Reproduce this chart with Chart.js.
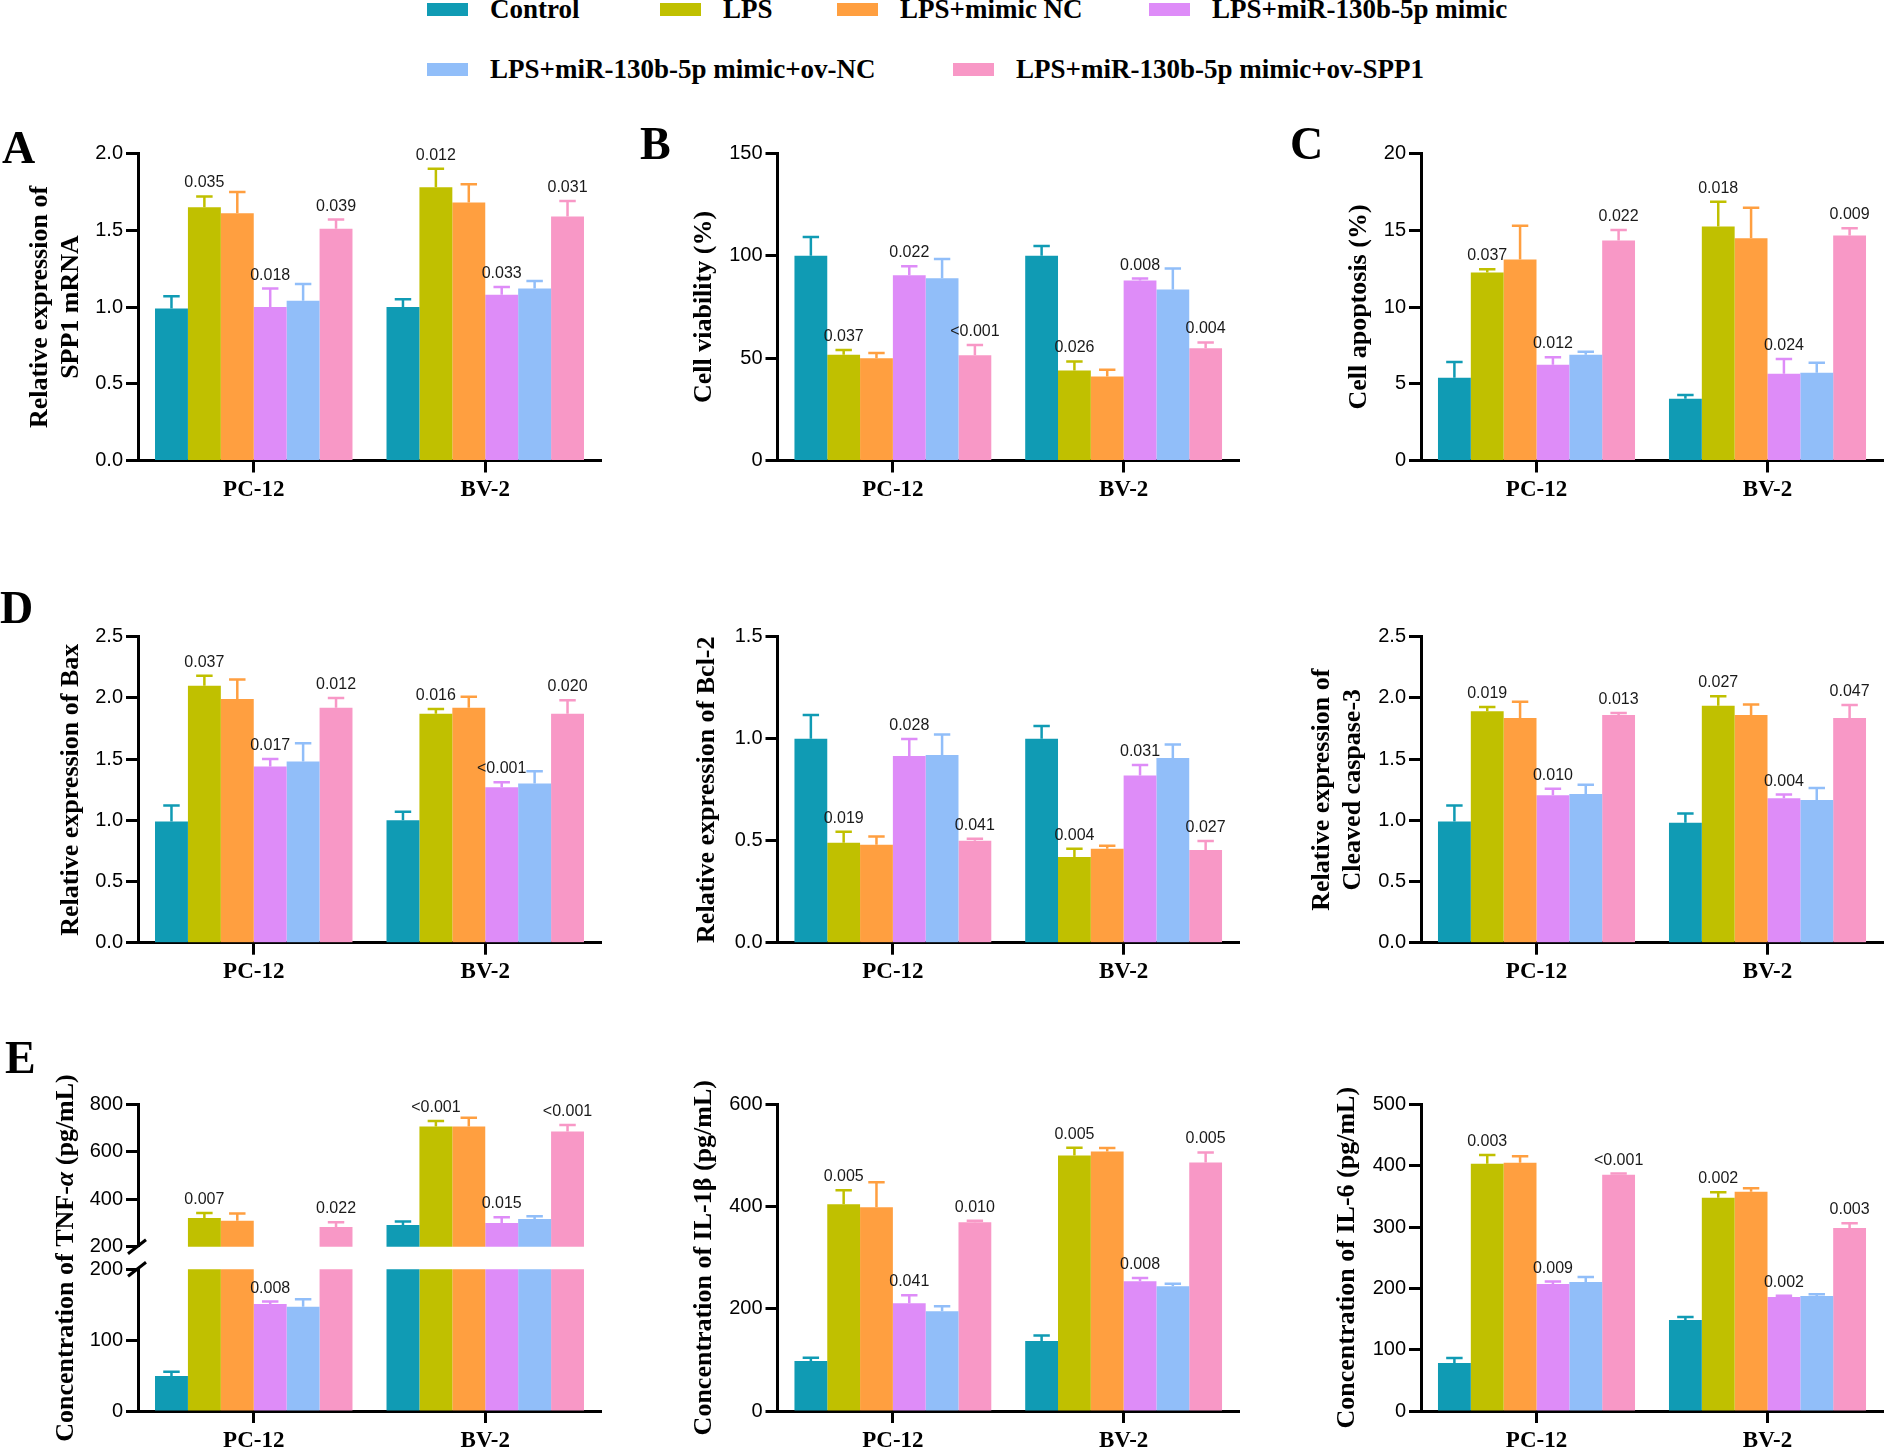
<!DOCTYPE html>
<html>
<head>
<meta charset="utf-8">
<title>SPP1 / miR-130b-5p panels</title>
<script src="https://cdn.jsdelivr.net/npm/chart.js@4.4.1/dist/chart.umd.min.js"></script>
<style>
  body { margin: 0; background: #fff; width: 1884px; height: 1449px; position: relative; overflow: hidden; }
  canvas { position: absolute; }
  .key { position: absolute; width: 41px; height: 13px; }
  .keyText { position: absolute; font: bold 27px 'Liberation Serif', 'Times New Roman', serif; line-height: 27px; white-space: nowrap; color: #000; }
  .letter { position: absolute; font: bold 46px 'Liberation Serif', 'Times New Roman', serif; line-height: 46px; color: #000; }
</style>
</head>
<body>
<script>
// groupes et lignées cellulaires
const cellLines = ['PC-12', 'BV-2'];
const groups = ['Control', 'LPS', 'LPS+mimic NC', 'LPS+miR-130b-5p mimic',
                'LPS+miR-130b-5p mimic+ov-NC', 'LPS+miR-130b-5p mimic+ov-SPP1'];
const groupColors = ['#109bb4', '#c0c000', '#ff9f40', '#de8cf8', '#91bef9', '#f898c6'];

// A - SPP1 mRNA  (ligne 0 = PC-12, ligne 1 = BV-2)
const spp1Ticks = ['0.0', '0.5', '1.0', '1.5', '2.0'];
const spp1Mean = [[0.99, 1.65, 1.61, 1.00, 1.04, 1.51], [1.00, 1.78, 1.68, 1.08, 1.12, 1.59]];
const spp1SD   = [[0.08, 0.07, 0.14, 0.12, 0.11, 0.06], [0.05, 0.12, 0.12, 0.05, 0.05, 0.10]];
const spp1P    = [['', '0.035', '', '0.018', '', '0.039'], ['', '0.012', '', '0.033', '', '0.031']];

// B - viabilité
const viabTicks = ['0', '50', '100', '150'];
const viabMean = [[100, 51.7, 49.9, 90.5, 89.0, 51.4], [100, 44.0, 41.1, 88.0, 83.6, 54.8]];
const viabSD   = [[9.2, 2.3, 2.6, 4.4, 9.5, 5.0], [4.8, 4.4, 3.2, 0.9, 10.2, 2.9]];
const viabP    = [['', '0.037', '', '0.022', '', '<0.001'], ['', '0.026', '', '0.008', '', '0.004']];

// C - apoptose
const apoTicks = ['0', '5', '10', '15', '20'];
const apoMean = [[5.39, 12.24, 13.09, 6.24, 6.89, 14.33], [4.02, 15.24, 14.48, 5.65, 5.72, 14.65]];
const apoSD   = [[1.02, 0.22, 2.21, 0.48, 0.20, 0.69], [0.24, 1.61, 1.98, 0.96, 0.65, 0.48]];
const apoP    = [['', '0.037', '', '0.012', '', '0.022'], ['', '0.018', '', '0.024', '', '0.009']];

// D - Bax / Bcl-2 / Cleaved caspase-3
const baxTicks = ['0.0', '0.5', '1.0', '1.5', '2.0', '2.5'];
const baxMean = [[0.99, 2.10, 1.99, 1.44, 1.48, 1.92], [1.00, 1.87, 1.92, 1.27, 1.30, 1.87]];
const baxSD   = [[0.13, 0.08, 0.16, 0.06, 0.15, 0.08], [0.07, 0.04, 0.09, 0.04, 0.10, 0.11]];
const baxP    = [['', '0.037', '', '0.017', '', '0.012'], ['', '0.016', '', '<0.001', '', '0.020']];

const bclTicks = ['0.0', '0.5', '1.0', '1.5'];
const bclMean = [[1.00, 0.49, 0.48, 0.915, 0.92, 0.50], [1.00, 0.42, 0.46, 0.82, 0.905, 0.455]];
const bclSD   = [[0.116, 0.054, 0.041, 0.083, 0.10, 0.009], [0.062, 0.041, 0.015, 0.051, 0.067, 0.043]];
const bclP    = [['', '0.019', '', '0.028', '', '0.041'], ['', '0.004', '', '0.031', '', '0.027']];

const caspTicks = ['0.0', '0.5', '1.0', '1.5', '2.0', '2.5'];
const caspMean = [[0.99, 1.89, 1.835, 1.205, 1.215, 1.86], [0.98, 1.935, 1.86, 1.18, 1.165, 1.835]];
const caspSD   = [[0.13, 0.035, 0.134, 0.052, 0.076, 0.016], [0.075, 0.078, 0.087, 0.03, 0.098, 0.107]];
const caspP    = [['', '0.019', '', '0.010', '', '0.013'], ['', '0.027', '', '0.004', '', '0.047']];

// E - cytokines
const tnfTicksHigh = ['200', '400', '600', '800'];
const tnfTicksLow = ['0', '100', '200'];
const tnfMean = [[49.4, 321, 309, 151, 147, 283], [292, 707, 707, 300, 317, 686]];
const tnfSD   = [[6.1, 21, 31, 3.4, 10.8, 20], [14, 23, 37, 24, 11, 28]];
const tnfP    = [['', '0.007', '', '0.008', '', '0.022'], ['', '<0.001', '', '0.015', '', '<0.001']];

const il1bTicks = ['0', '200', '400', '600'];
const il1bMean = [[97.7, 404.6, 398.7, 211, 195.4, 369.4], [136.8, 500.3, 508.1, 254.1, 244.3, 486.6]];
const il1bSD   = [[6.5, 27.3, 48.9, 15.6, 9.8, 3.2], [11.1, 15, 6.6, 6.5, 4.6, 19.6]];
const il1bP    = [['', '0.005', '', '0.041', '', '0.010'], ['', '0.005', '', '0.008', '', '0.005']];

const il6Ticks = ['0', '100', '200', '300', '400', '500'];
const il6Mean = [[78.3, 403.2, 404.8, 207.3, 210.6, 385.2], [148.5, 347.7, 357.5, 186.1, 187.7, 298.7]];
const il6SD   = [[8.2, 14.6, 10.9, 3.8, 8.1, 2.2], [4.9, 9.2, 5.9, 2.1, 2.7, 7.6]];
const il6P    = [['', '0.003', '', '0.009', '', '<0.001'], ['', '0.002', '', '0.002', '', '0.003']];

const SERIF = "'Liberation Serif', 'Times New Roman', serif";
const SANS = "'Liberation Sans', Arial, sans-serif";
Chart.defaults.font.family = SANS;
Chart.defaults.color = '#000';

// mise en page: colonnes et rangées (pixels de la page)
const cols = [
  { left: 0, width: 625, areaLeft: 138, areaRight: 601 },
  { left: 630, width: 625, areaLeft: 777.5, areaRight: 1239 },
  { left: 1262, width: 622, areaLeft: 1421, areaRight: 1883 }
];
const rows = [
  { top: 100, height: 420, areaTop: 153.5, areaBottom: 460.5 },
  { top: 585, height: 415, areaTop: 636.7, areaBottom: 942.7 },
  { top: 1040, height: 409, areaTop: 1104.5, areaBottom: 1411 }
];

// barres d'erreur (SD vers le haut) + valeurs de p
const errorBars = {
  id: 'errorBars',
  afterDatasetsDraw(chart) {
    const ctx = chart.ctx;
    const y = chart.scales.y;
    chart.data.datasets.forEach((ds, di) => {
      chart.getDatasetMeta(di).data.forEach((bar, j) => {
        const v = ds.data[j];
        const hi = v + ds.sd[j];
        if (v < y.min || hi > y.max) return;
        const yTop = y.getPixelForValue(hi);
        const cap = bar.width * 0.25;
        ctx.save();
        ctx.strokeStyle = ds.backgroundColor;
        ctx.lineWidth = 2.5;
        ctx.beginPath();
        ctx.moveTo(bar.x, bar.y);
        ctx.lineTo(bar.x, yTop);
        ctx.moveTo(bar.x - cap, yTop);
        ctx.lineTo(bar.x + cap, yTop);
        ctx.stroke();
        if (ds.pText[j]) {
          ctx.fillStyle = '#1a1a1a';
          ctx.font = '16px ' + SANS;
          ctx.textAlign = 'center';
          ctx.textBaseline = 'alphabetic';
          ctx.fillText(ds.pText[j], bar.x, yTop - 9);
        }
        ctx.restore();
      });
    });
  }
};

function makeChart(col, box, area, tickLabels, mean, sd, pvals, extra) {
  const cv = document.createElement('canvas');
  cv.width = col.width;
  cv.height = box.height;
  cv.style.left = col.left + 'px';
  cv.style.top = box.top + 'px';
  document.body.appendChild(cv);

  const vals = tickLabels.map(Number);
  const datasets = groups.map((g, gi) => ({
    label: g,
    data: cellLines.map((c, ci) => mean[ci][gi]),
    sd: cellLines.map((c, ci) => sd[ci][gi]),
    pText: cellLines.map((c, ci) => pvals[ci][gi]),
    backgroundColor: groupColors[gi],
    borderWidth: 0,
    clip: 0,
    barPercentage: 1,
    categoryPercentage: 0.853
  }));

  const lh = 26 * 1.2;
  // hauteur sous la zone du graphique (axe x, ou simple marge s'il est caché)
  const xHeight = box.top + box.height - area.bottom;
  return new Chart(cv, {
    type: 'bar',
    data: { labels: cellLines, datasets: datasets },
    options: {
      responsive: false,
      animation: false,
      devicePixelRatio: 1,
      layout: {
        padding: {
          left: 0,
          right: col.left + col.width - col.areaRight,
          top: area.top - box.top,
          bottom: 0
        }
      },
      plugins: { legend: { display: false }, tooltip: { enabled: false } },
      scales: {
        x: {
          display: extra.showX,
          offset: true,
          grid: { display: true, drawOnChartArea: false, offset: false, drawTicks: true,
                  tickLength: 12, tickWidth: 3, tickColor: '#000' },
          border: { display: true, color: '#000', width: 3 },
          ticks: { color: '#000', padding: 4, font: { family: SERIF, size: 23, weight: 'bold' } },
          afterFit: s => { s.height = xHeight; }
        },
        y: {
          min: vals[0],
          max: vals[vals.length - 1],
          afterBuildTicks: s => { s.ticks = vals.map(v => ({ value: v })); },
          grid: { display: true, drawOnChartArea: false, drawTicks: true,
                  tickLength: 12, tickWidth: 3, tickColor: '#000' },
          border: { display: true, color: '#000', width: 3 },
          ticks: { color: '#000', padding: 3, font: { family: SANS, size: 20 },
                   callback: (v, i) => tickLabels[i] },
          title: extra.title ? {
            display: true, text: extra.title, color: '#000',
            font: { family: SERIF, size: 26, weight: 'bold', lineHeight: 1.2 },
            padding: { top: extra.titleX - col.left - lh / 2, bottom: 0 }
          } : { display: false },
          afterFit: s => { s.width = col.areaLeft - col.left; }
        }
      }
    },
    plugins: [errorBars].concat(extra.plugins || [])
  });
}

function panel(ci, ri, tickLabels, mean, sd, pvals, title, titleX) {
  const r = rows[ri];
  return makeChart(cols[ci], r, { top: r.areaTop, bottom: r.areaBottom },
                   tickLabels, mean, sd, pvals, { showX: true, title: title, titleX: titleX });
}

panel(0, 0, spp1Ticks, spp1Mean, spp1SD, spp1P, ['Relative expression of', 'SPP1 mRNA'], 40);
panel(1, 0, viabTicks, viabMean, viabSD, viabP, 'Cell viability (%)', 704);
panel(2, 0, apoTicks, apoMean, apoSD, apoP, 'Cell apoptosis (%)', 1359);
panel(0, 1, baxTicks, baxMean, baxSD, baxP, 'Relative expression of Bax', 71);
panel(1, 1, bclTicks, bclMean, bclSD, bclP, 'Relative expression of Bcl-2', 707);
panel(2, 1, caspTicks, caspMean, caspSD, caspP, ['Relative expression of', 'Cleaved caspase-3'], 1322);
panel(1, 2, il1bTicks, il1bMean, il1bSD, il1bP, 'Concentration of IL-1\u03b2 (pg/mL)', 704);
panel(2, 2, il6Ticks, il6Mean, il6SD, il6P, 'Concentration of IL-6 (pg/mL)', 1347);

// TNF-alpha: axe coupé, deux graphiques superposés
function slash(ctx, x, y) {
  ctx.save();
  ctx.strokeStyle = '#000';
  ctx.lineWidth = 3;
  ctx.beginPath();
  ctx.moveTo(x - 9, y + 7);
  ctx.lineTo(x + 9, y - 7);
  ctx.stroke();
  ctx.restore();
}

const tnfLowerExtras = {
  id: 'tnfLower',
  afterDraw(chart) {
    const ctx = chart.ctx;
    const a = chart.chartArea;
    slash(ctx, a.left - 1, a.top);
    // titre avec alpha en italique
    const parts = [['Concentration of TNF-', 'bold'], ['\u03b1', 'italic bold'], [' (pg/mL)', 'bold']];
    ctx.save();
    ctx.translate(66 - cols[0].left, 1258 - rows[2].top);
    ctx.rotate(-Math.PI / 2);
    ctx.fillStyle = '#000';
    ctx.textBaseline = 'middle';
    ctx.textAlign = 'left';
    let total = 0;
    parts.forEach(p => { ctx.font = p[1] + ' 26px ' + SERIF; total += ctx.measureText(p[0]).width; });
    let x = -total / 2;
    parts.forEach(p => {
      ctx.font = p[1] + ' 26px ' + SERIF;
      ctx.fillText(p[0], x, 0);
      x += ctx.measureText(p[0]).width;
    });
    ctx.restore();
  }
};
const tnfUpperExtras = {
  id: 'tnfUpper',
  afterDraw(chart) {
    slash(chart.ctx, chart.chartArea.left - 1, chart.chartArea.bottom);
  }
};

makeChart(cols[0], rows[2], { top: 1269.3, bottom: 1411 }, tnfTicksLow, tnfMean, tnfSD, tnfP,
          { showX: true, title: null, plugins: [tnfLowerExtras] });
makeChart(cols[0], { top: 1040, height: 230 }, { top: 1104.5, bottom: 1246.7 }, tnfTicksHigh, tnfMean, tnfSD, tnfP,
          { showX: false, title: null, plugins: [tnfUpperExtras] });

// légende
const legendSpots = [[427, 3], [660, 3], [837, 3], [1149, 3], [427, 63], [953, 63]];
groups.forEach((g, i) => {
  const key = document.createElement('div');
  key.className = 'key';
  key.style.left = legendSpots[i][0] + 'px';
  key.style.top = legendSpots[i][1] + 'px';
  key.style.background = groupColors[i];
  document.body.appendChild(key);
  const txt = document.createElement('div');
  txt.className = 'keyText';
  txt.style.left = (legendSpots[i][0] + 63) + 'px';
  txt.style.top = (legendSpots[i][1] - 7) + 'px';
  txt.textContent = g;
  document.body.appendChild(txt);
});

// lettres des panneaux
[['A', 2, 125], ['B', 640, 121], ['C', 1290, 121], ['D', 0, 585], ['E', 5, 1035]].forEach(l => {
  const d = document.createElement('div');
  d.className = 'letter';
  d.textContent = l[0];
  d.style.left = l[1] + 'px';
  d.style.top = l[2] + 'px';
  document.body.appendChild(d);
});
</script>
</body>
</html>
